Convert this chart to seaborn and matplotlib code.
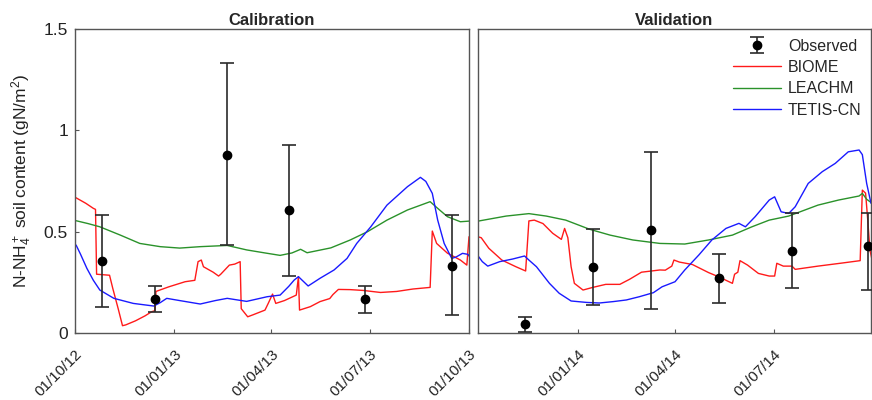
import numpy as np
import pandas as pd
import matplotlib
matplotlib.use('Agg')
import matplotlib.pyplot as plt
import matplotlib.dates as mdates
from matplotlib.lines import Line2D
import seaborn as sns

# ---------------- data (time = days since START) ----------------
START = '2012-10-01'

biome_day = [0, 10, 17, 19, 20, 32, 35, 40, 44, 47, 56, 65, 71, 74, 75, 87, 102, 111, 114, 117, 119,
             128, 133, 135, 143, 148, 153, 154, 160, 165, 176, 179, 183, 186, 194, 205, 207, 208,
             218, 227, 236, 239, 244, 255, 267, 283, 298, 313, 329, 331, 335, 345, 357, 363, 365,
             368, 375, 387, 400, 409, 412, 417, 425, 434, 442, 445, 448, 451, 454, 462, 471, 483,
             496, 505, 516, 533, 538, 544, 546, 551, 563, 578, 587, 600, 602, 605, 607, 614, 624,
             634, 639, 641, 647, 655, 658, 679, 701, 718, 720, 723, 725, 727, 729]
biome_val = [0.67, 0.64, 0.615, 0.61, 0.29, 0.285, 0.22, 0.12, 0.036, 0.04, 0.06, 0.085, 0.105, 0.11,
             0.205, 0.228, 0.253, 0.26, 0.352, 0.36, 0.327, 0.30, 0.281, 0.29, 0.335, 0.34, 0.352,
             0.12, 0.08, 0.09, 0.113, 0.146, 0.192, 0.146, 0.16, 0.187, 0.278, 0.113, 0.13, 0.155,
             0.17, 0.19, 0.215, 0.214, 0.21, 0.2, 0.205, 0.217, 0.225, 0.503, 0.442, 0.394, 0.36,
             0.335, 0.475, 0.47, 0.418, 0.36, 0.327, 0.306, 0.553, 0.557, 0.54, 0.492, 0.462, 0.516,
             0.47, 0.327, 0.245, 0.212, 0.225, 0.24, 0.24, 0.265, 0.30, 0.311, 0.31, 0.33, 0.36,
             0.35, 0.338, 0.298, 0.278, 0.245, 0.29, 0.30, 0.357, 0.335, 0.294, 0.281, 0.281, 0.344,
             0.33, 0.33, 0.314, 0.33, 0.345, 0.357, 0.705, 0.69, 0.557, 0.41, 0.36]

leachm_day = [1, 12, 23, 42, 60, 79, 97, 116, 141, 159, 176, 190, 201, 209, 215, 237, 255, 271, 289,
              308, 329, 336, 345, 357, 365, 391, 412, 428, 446, 468, 487, 508, 533, 556, 578, 600,
              618, 634, 652, 679, 698, 717, 720, 724, 729]
leachm_val = [0.554, 0.54, 0.524, 0.483, 0.442, 0.426, 0.419, 0.426, 0.432, 0.41, 0.395, 0.383, 0.395,
              0.413, 0.396, 0.42, 0.459, 0.50, 0.557, 0.607, 0.648, 0.615, 0.574, 0.549, 0.552, 0.577,
              0.589, 0.577, 0.557, 0.512, 0.483, 0.459, 0.442, 0.439, 0.459, 0.483, 0.524, 0.557,
              0.577, 0.631, 0.656, 0.676, 0.689, 0.66, 0.64]

tetis_day = [1, 5, 11, 17, 23, 36, 54, 73, 79, 85, 97, 116, 130, 141, 159, 178, 190, 198, 203, 207,
             216, 227, 240, 252, 261, 274, 289, 308, 320, 325, 331, 336, 342, 349, 353, 359, 364,
             369, 374, 385, 397, 408, 412, 419, 431, 440, 451, 465, 477, 490, 502, 514, 527, 535,
             547, 556, 569, 581, 594, 606, 612, 621, 634, 639, 645, 652, 658, 670, 683, 695, 707,
             717, 720, 724, 728]
tetis_val = [0.434, 0.39, 0.319, 0.26, 0.212, 0.171, 0.146, 0.133, 0.15, 0.171, 0.16, 0.143, 0.16,
             0.171, 0.156, 0.179, 0.187, 0.23, 0.261, 0.278, 0.232, 0.27, 0.311, 0.368, 0.442, 0.524,
             0.631, 0.722, 0.768, 0.748, 0.689, 0.557, 0.442, 0.368, 0.375, 0.393, 0.388, 0.352,
             0.33, 0.352, 0.365, 0.38, 0.36, 0.327, 0.245, 0.196, 0.158, 0.151, 0.148, 0.155, 0.163,
             0.179, 0.199, 0.228, 0.253, 0.311, 0.385, 0.459, 0.516, 0.541, 0.524, 0.574, 0.656,
             0.672, 0.598, 0.59, 0.623, 0.738, 0.796, 0.837, 0.894, 0.903, 0.88, 0.738, 0.64]

obs_day = [25, 74, 141, 198, 269, 349, 408, 471, 525, 588, 655, 725]
obs_val = [0.355, 0.17, 0.88, 0.607, 0.166, 0.332, 0.043, 0.327, 0.508, 0.27, 0.406, 0.429]
obs_lo = [0.128, 0.105, 0.434, 0.281, 0.10, 0.087, 0.005, 0.138, 0.118, 0.146, 0.224, 0.212]
obs_hi = [0.584, 0.233, 1.33, 0.926, 0.233, 0.58, 0.079, 0.512, 0.895, 0.389, 0.59, 0.59]

panel_titles = ['Calibration', 'Validation']
panel_ranges = [('2012-10-01', '2013-10-01'), ('2013-10-01', '2014-09-29')]
panel_ticks = [['2012-10-01', '2013-01-01', '2013-04-01', '2013-07-01', '2013-10-01'],
               ['2014-01-01', '2014-04-01', '2014-07-01']]
y_ticks = [0, 0.5, 1, 1.5]
y_ticklabels = ['0', '0.5', '1', '1.5']
model_names = ['BIOME', 'LEACHM', 'TETIS-CN']
model_colors = {'BIOME': '#ff1a1a', 'LEACHM': '#2a922a', 'TETIS-CN': '#1a1aff'}
ylabel = 'N-NH$_4^+$ soil content (gN/m$^2$)'

# ---------------- build frames ----------------
start = pd.Timestamp(START)
def to_dates(days):
    return start + pd.to_timedelta(np.asarray(days, dtype=float), unit='D')

frames = []
for name, d, v in [('BIOME', biome_day, biome_val), ('LEACHM', leachm_day, leachm_val),
                   ('TETIS-CN', tetis_day, tetis_val)]:
    frames.append(pd.DataFrame({'date': to_dates(d), 'value': v, 'model': name}))
models = pd.concat(frames, ignore_index=True)
obs = pd.DataFrame({'date': to_dates(obs_day), 'value': obs_val, 'lo': obs_lo, 'hi': obs_hi})

# ---------------- style ----------------
sns.set_style('white')
plt.rcParams['font.family'] = ['Liberation Sans', 'DejaVu Sans']
plt.rcParams['mathtext.fontset'] = 'custom'
plt.rcParams['mathtext.rm'] = 'Liberation Sans'
plt.rcParams['mathtext.it'] = 'Liberation Sans:italic'
plt.rcParams['mathtext.bf'] = 'Liberation Sans:bold'

spine_col = '#555555'
text_col = '#222222'
fig = plt.figure(figsize=(8.72, 4.0), dpi=100)
axes = [fig.add_axes([75 / 872, 67 / 400, 394 / 872, 304 / 400]),
        fig.add_axes([478 / 872, 67 / 400, 393 / 872, 304 / 400])]

for i, ax in enumerate(axes):
    sns.lineplot(data=models, x='date', y='value', hue='model', hue_order=model_names,
                 palette=model_colors, estimator=None, sort=False, linewidth=1.0,
                 legend=False, ax=ax)
    eb = ax.errorbar(obs['date'], obs['value'],
                     yerr=[obs['value'] - obs['lo'], obs['hi'] - obs['value']],
                     fmt='o', color='black', ecolor='#2b2b2b', ms=6, capsize=5,
                     elinewidth=1.2, capthick=1.2, label='Observed', zorder=5)
    x0, x1 = panel_ranges[i]
    ax.set_xlim(pd.Timestamp(x0), pd.Timestamp(x1))
    ax.set_ylim(0, 1.5)
    ticks = [pd.Timestamp(t) for t in panel_ticks[i]]
    ax.set_xticks(ticks)
    ax.xaxis.set_major_formatter(mdates.DateFormatter('%d/%m/%y'))
    ax.set_xlabel('')
    ax.set_ylabel('')
    ax.set_title(panel_titles[i], fontsize=12, fontweight='bold', pad=3)
    for sp in ax.spines.values():
        sp.set_color(spine_col)
        sp.set_linewidth(1.0)
    ax.tick_params(axis='x', direction='in', length=3, width=0.8, color=spine_col,
                   labelsize=11, labelcolor=text_col, pad=10, bottom=True, top=False)
    for lab in ax.get_xticklabels():
        lab.set_rotation(45)
        lab.set_ha('right')
        lab.set_va('top')
        lab.set_rotation_mode('anchor')
    if i == 0:
        ax.set_yticks(y_ticks)
        ax.set_yticklabels(y_ticklabels)
        ax.tick_params(axis='y', direction='in', length=3, width=0.8, color=spine_col,
                       labelsize=12.5, labelcolor=text_col, pad=5, left=True, right=False)
        ax.set_ylabel(ylabel, fontsize=12.5, color=text_col, labelpad=7)
    else:
        ax.set_yticks([])
        handles = [eb] + [Line2D([0], [0], color=model_colors[m], lw=1.0) for m in model_names]
        labels = ['Observed'] + model_names
        ax.legend(handles, labels, loc='upper right', frameon=False, fontsize=11.5,
                  handlelength=3.0, labelspacing=0.4, handletextpad=0.4,
                  borderaxespad=0.4, borderpad=0.2)

fig.savefig('out.png', dpi=100)
